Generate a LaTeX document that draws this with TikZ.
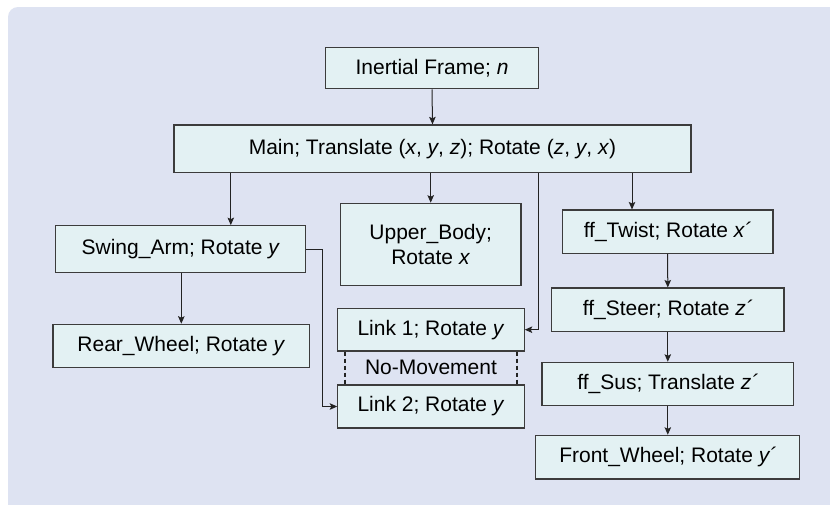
\documentclass[tikz,border=0pt]{standalone}
\usepackage{fontspec}
\setmainfont{Liberation Sans}
\usetikzlibrary{arrows.meta}
\definecolor{bgc}{RGB}{222,227,242}
\definecolor{boxc}{RGB}{227,241,243}
\definecolor{linec}{RGB}{35,35,35}
\definecolor{borderc}{RGB}{60,60,60}
\begin{document}
\begin{tikzpicture}[x=1pt,y=-1pt,
  box/.style={draw=borderc, fill=boxc, line width=1.2pt, inner sep=0pt,
    font=\fontsize{21}{25}\selectfont, align=center},
  arr/.style={draw=linec, line width=1pt, -{Stealth[length=7.5pt,width=6.5pt,inset=1.5pt]}},
  nomove/.style={draw=linec, line width=2pt, dash pattern=on 4pt off 3pt}]
\useasboundingbox (0,0) rectangle (830,504);
\fill[white] (0,0) rectangle (830,504);
\fill[bgc, rounded corners=10pt] (8,7) rectangle (850,530);
% nodes
\node[box, minimum width=213pt, minimum height=41pt] (inertial) at (432,68.2) {Inertial Frame; \textit{n}};
\node[box, minimum width=517pt, minimum height=47.7pt] (main) at (432.5,148.8) {Main; Translate (\textit{x}, \textit{y}, \textit{z}); Rotate (\textit{z}, \textit{y}, \textit{x})};
\node[box, minimum width=250pt, minimum height=46.6pt] (swing) at (180.8,249) {Swing\_Arm; Rotate \textit{y}};
\node[box, minimum width=180.5pt, minimum height=82.4pt] (upper) at (430.7,244.5) {Upper\_Body;\\Rotate \textit{x}};
\node[box, minimum width=210.7pt, minimum height=43.3pt] (twist) at (667.6,231.7) {ff\_Twist; Rotate \textit{x´}};
\node[box, minimum width=232.4pt, minimum height=43.3pt] (steer) at (667.8,309.7) {ff\_Steer; Rotate \textit{z´}};
\node[box, minimum width=251.5pt, minimum height=43.3pt] (sus) at (667.8,384) {ff\_Sus; Translate \textit{z´}};
\node[box, minimum width=264pt, minimum height=43.7pt] (front) at (667.8,457.2) {Front\_Wheel; Rotate \textit{y´}};
\node[box, minimum width=256.8pt, minimum height=43pt] (rear) at (181.3,345.8) {Rear\_Wheel; Rotate \textit{y}};
\node[box, minimum width=186.3pt, minimum height=42.7pt] (link1) at (431,329.7) {Link 1; Rotate \textit{y}};
\node[box, minimum width=186.3pt, minimum height=43pt] (link2) at (431,406.5) {Link 2; Rotate \textit{y}};
\node[font=\fontsize{21}{25}\selectfont, inner sep=0pt] (nomv) at (431,367) {No-Movement};
% helper coordinates
\coordinate (cswing) at (230.8,0);
\coordinate (ctwist) at (632,0);
\coordinate (clink) at (538.9,0);
\coordinate (cleft) at (322.4,0);
\coordinate (dl) at (344.6,0);
\coordinate (dr) at (516.7,0);
% connectors
\draw[arr] (inertial.south) -- (main.north);
\draw[arr] (cswing |- main.south) -- (cswing |- swing.north);
\draw[arr] (upper.north |- main.south) -- (upper.north);
\draw[arr] (ctwist |- main.south) -- (ctwist |- twist.north);
\draw[arr] (clink |- main.south) |- (link1.east);
\draw[arr] (swing.south -| rear.north) -- (rear.north);
\draw[arr] (swing.east) -- (cleft |- swing.east) |- (link2.west);
\draw[arr] (twist.south) -- (steer.north);
\draw[arr] (steer.south) -- (sus.north);
\draw[arr] (sus.south) -- (front.north);
\draw[nomove] (dl |- link1.south) -- (dl |- link2.north);
\draw[nomove] (dr |- link1.south) -- (dr |- link2.north);
\end{tikzpicture}
\end{document}
